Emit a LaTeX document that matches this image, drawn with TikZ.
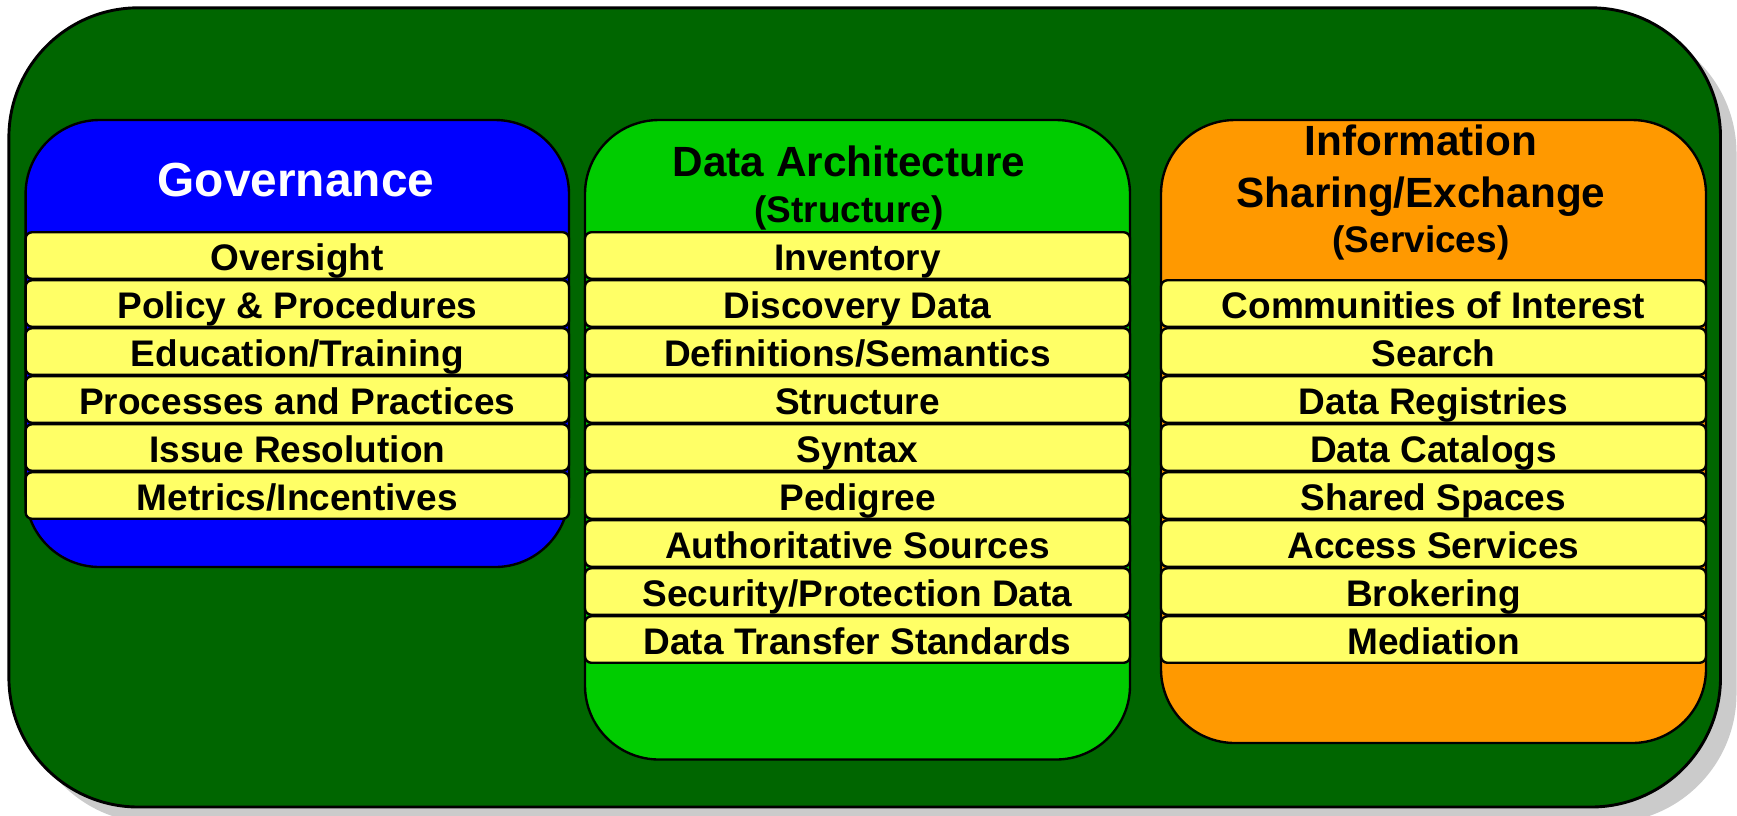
\documentclass[tikz,border=0pt]{standalone}
\usepackage{fontspec}
\setmainfont{Liberation Sans}
\definecolor{outergreen}{HTML}{006600}
\definecolor{govblue}{HTML}{0000FF}
\definecolor{dagreen}{HTML}{00CC00}
\definecolor{isorange}{HTML}{FF9900}
\definecolor{itemyellow}{HTML}{FFFF66}
\definecolor{shadowgrey}{HTML}{CBCBCB}
\def\u{0.3784pt}
\begin{document}
\begin{tikzpicture}[x=0.3784pt,y=-0.3784pt,
  outerbox/.style={draw=black,line width=1.1pt,fill=outergreen,rounded corners=49pt},
  colbox/.style={draw=black,line width=0.9pt,rounded corners=28pt},
  item/.style={draw=black,line width=0.9pt,fill=itemyellow,rounded corners=2.4pt,
    inner sep=0pt,minimum height={46.5*\u},text height=11.2pt,text depth=0pt,
    font=\bfseries\fontsize{14}{16}\selectfont},
  headbig/.style={anchor=base,inner sep=0pt,font=\bfseries\fontsize{18.1}{20}\selectfont},
  head/.style={anchor=base,inner sep=0pt,font=\bfseries\fontsize{16}{19}\selectfont},
  headsub/.style={anchor=base,inner sep=0pt,font=\bfseries\fontsize{14}{16}\selectfont}]
\useasboundingbox (0,0) rectangle (1737,815);
% shadow and outer frame
\fill[shadowgrey,rounded corners=49pt] (24.9,23.8) rectangle (1736.5,823);
\draw[outerbox] (8.9,7.8) rectangle (1720.5,807);
% column boxes
\draw[colbox,fill=govblue] (25.6,120) rectangle (569,567);
\draw[colbox,fill=dagreen] (585,120) rectangle (1130,759.5);
\draw[colbox,fill=isorange] (1161,120) rectangle (1706,743);
% headers
\node[headbig,text=white] (govhead) at (296,196) {Governance};
\node[head] (dahead1) at (849,176.5) {Data Architecture};
\node[headsub] (dahead2) at (849,222) {(Structure)};
\node[head] (ishead1) at (1421,155.5) {Information};
\node[head] (ishead2) at (1421,207) {Sharing/Exchange};
\node[headsub] (ishead3) at (1421,252) {(Services)};
% governance items
\foreach \t [count=\i] in {Oversight,Policy \& Procedures,Education/Training,Processes and Practices,Issue Resolution,Metrics/Incentives}
  \node[item,minimum width={543.4*\u}] (g\i) at (297.3,{255.5+48*(\i-1)}) {\t};
% data architecture items
\foreach \t [count=\i] in {Inventory,Discovery Data,Definitions/Semantics,Structure,Syntax,Pedigree,Authoritative Sources,Security/Protection Data,Data Transfer Standards}
  \node[item,minimum width={545*\u}] (d\i) at (857.5,{255.5+48*(\i-1)}) {\t};
% information sharing items
\foreach \t [count=\i] in {Communities of Interest,Search,Data Registries,Data Catalogs,Shared Spaces,Access Services,Brokering,Mediation}
  \node[item,minimum width={545*\u}] (s\i) at (1433.5,{303.5+48*(\i-1)}) {\t};
\end{tikzpicture}
\end{document}
